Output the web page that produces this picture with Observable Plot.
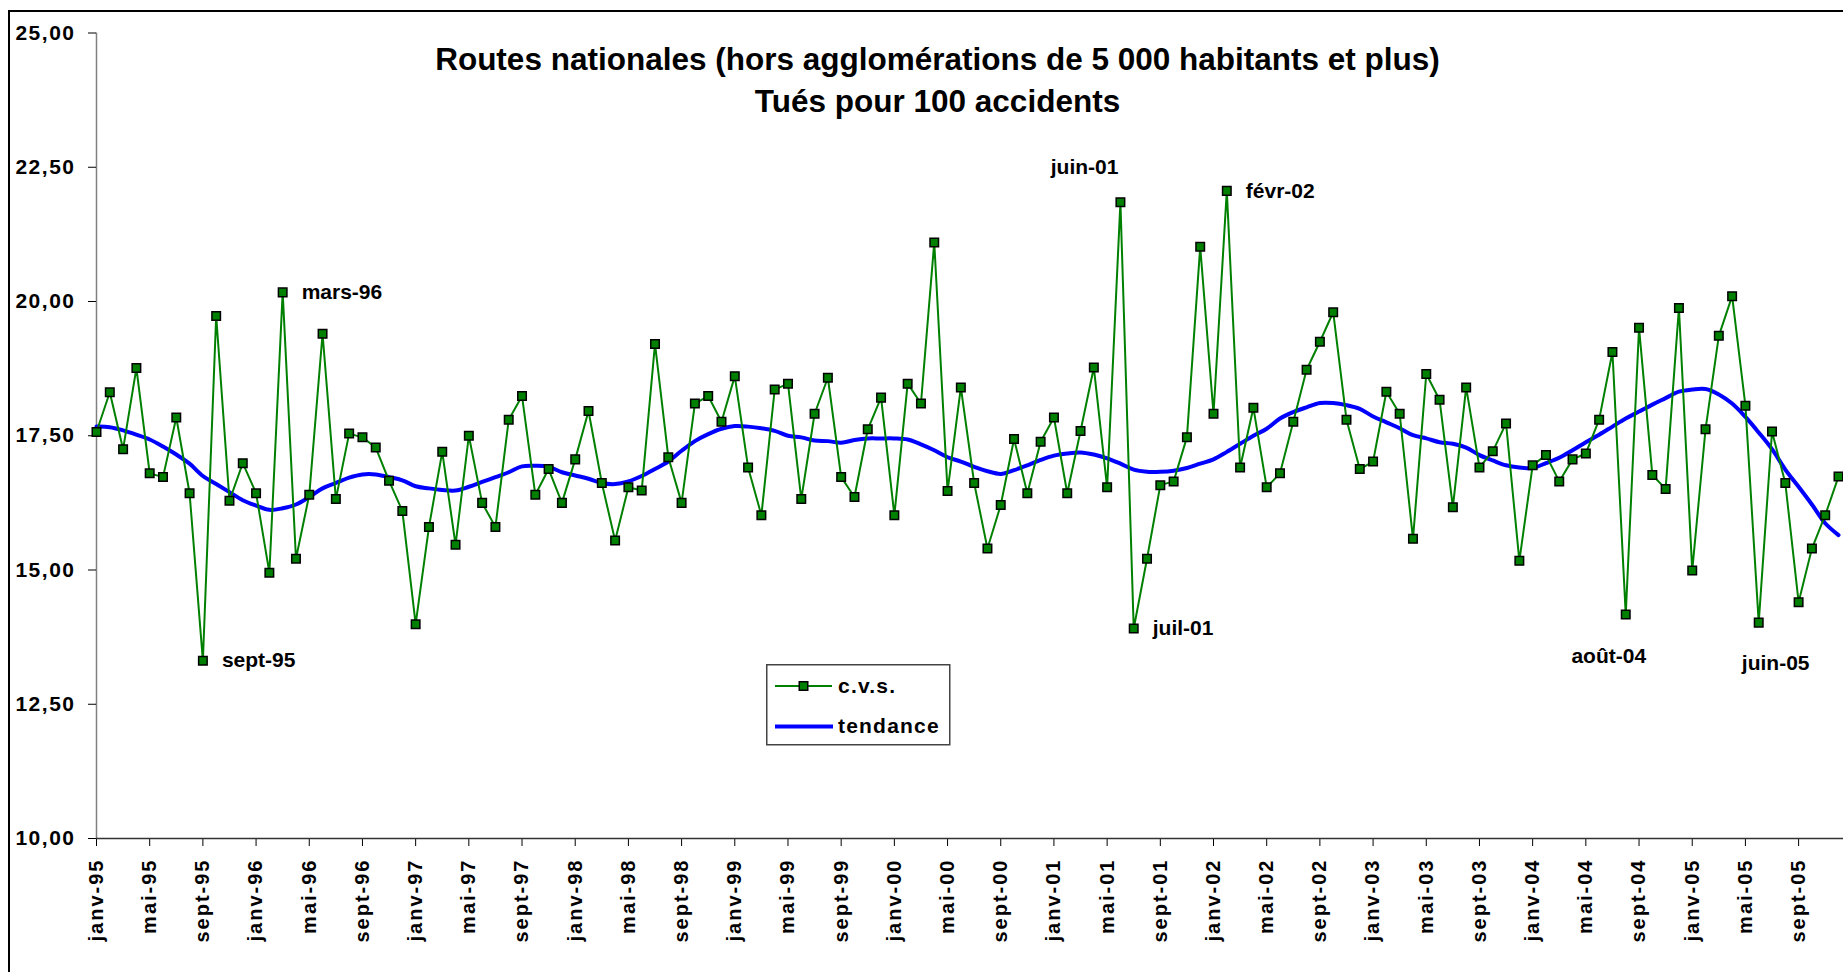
<!DOCTYPE html>
<html>
<head>
<meta charset="utf-8">
<script src="https://cdn.jsdelivr.net/npm/d3@7"></script>
<script src="https://cdn.jsdelivr.net/npm/@observablehq/plot@0.6"></script>
<style>
html, body { margin: 0; padding: 0; background: #fff; overflow: hidden; }
#wrap { position: relative; width: 1843px; height: 972px; font-family: "Liberation Sans", Arial, sans-serif; }
#chart { position: absolute; left: 0; top: 0; }
#border { position: absolute; left: 8px; top: 10px; width: 1900px; height: 1000px; border: 2px solid #000; pointer-events: none; }
#legend { position: absolute; left: 766px; top: 664px; }
</style>
</head>
<body>
<div id="wrap"><div id="border"></div></div>
<script>
// ---- data ----
const monthNames = ["janv", "févr", "mars", "avr", "mai", "juin", "juil", "août", "sept", "oct", "nov", "déc"];
const years = ["95", "96", "97", "98", "99", "00", "01", "02", "03", "04", "05"];
const categories = years.flatMap(y => monthNames.map(m => `${m}-${y}`));

const cvs = [
  17.57, 18.31, 17.25, 18.76, 16.80, 16.73, 17.84, 16.43, 13.31, 19.73, 16.29, 16.99,
  16.43, 14.95, 20.17, 15.21, 16.40, 19.40, 16.32, 17.54, 17.47, 17.28, 16.66, 16.10,
  13.99, 15.80, 17.20, 15.47, 17.50, 16.25, 15.80, 17.80, 18.24, 16.40, 16.88, 16.25,
  17.06, 17.96, 16.62, 15.55, 16.54, 16.48, 19.21, 17.10, 16.25, 18.10, 18.24, 17.76,
  18.61, 16.91, 16.02, 18.36, 18.47, 16.32, 17.91, 18.58, 16.73, 16.36, 17.62, 18.21,
  16.02, 18.47, 18.10, 21.10, 16.47, 18.40, 16.62, 15.40, 16.21, 17.44, 16.43, 17.39,
  17.84, 16.43, 17.59, 18.77, 16.54, 21.85, 13.91, 15.21, 16.58, 16.65, 17.47, 21.02,
  17.91, 22.06, 16.91, 18.02, 16.54, 16.80, 17.76, 18.73, 19.25, 19.80, 17.80, 16.88,
  17.02, 18.32, 17.91, 15.58, 18.65, 18.17, 16.17, 18.40, 16.91, 17.21, 17.73, 15.17,
  16.95, 17.14, 16.65, 17.06, 17.17, 17.80, 19.06, 14.17, 19.51, 16.77, 16.51, 19.88,
  14.99, 17.62, 19.36, 20.10, 18.06, 14.02, 17.58, 16.62, 14.40, 15.40, 16.02, 16.74
];

const tendance = [
  17.67, 17.66, 17.60, 17.52, 17.43, 17.30, 17.15, 16.98, 16.75, 16.60, 16.45, 16.30,
  16.20, 16.12, 16.15, 16.22, 16.36, 16.52, 16.62, 16.72, 16.78, 16.78, 16.73, 16.67,
  16.56, 16.52, 16.49, 16.48, 16.55, 16.64, 16.73, 16.82, 16.93, 16.94, 16.92, 16.82,
  16.76, 16.70, 16.62, 16.60, 16.65, 16.75, 16.88, 17.02, 17.22, 17.40, 17.53, 17.63,
  17.68, 17.67, 17.64, 17.59, 17.50, 17.47, 17.41, 17.40, 17.37, 17.42, 17.45, 17.45,
  17.45, 17.43, 17.34, 17.23, 17.10, 17.02, 16.92, 16.84, 16.79, 16.86, 16.95, 17.05,
  17.13, 17.17, 17.19, 17.15, 17.08, 16.98, 16.87, 16.83, 16.83, 16.85, 16.90, 16.98,
  17.06, 17.20, 17.35, 17.50, 17.63, 17.82, 17.94, 18.03, 18.11, 18.11, 18.07, 18.00,
  17.86, 17.75, 17.64, 17.51, 17.45, 17.38, 17.35, 17.28, 17.14, 17.04, 16.95, 16.91,
  16.90, 16.99, 17.09, 17.23, 17.38, 17.52, 17.67, 17.82, 17.95, 18.08, 18.20, 18.32,
  18.36, 18.37, 18.27, 18.10, 17.85, 17.56, 17.25, 16.87, 16.55, 16.22, 15.87, 15.65
];

const xTickLabels = [
  "janv-95", "mai-95", "sept-95", "janv-96", "mai-96", "sept-96", "janv-97", "mai-97", "sept-97",
  "janv-98", "mai-98", "sept-98", "janv-99", "mai-99", "sept-99", "janv-00", "mai-00", "sept-00",
  "janv-01", "mai-01", "sept-01", "janv-02", "mai-02", "sept-02", "janv-03", "mai-03", "sept-03",
  "janv-04", "mai-04", "sept-04", "janv-05", "mai-05", "sept-05"
];
const yTicks = [10, 12.5, 15, 17.5, 20, 22.5, 25];
const titleLines = ["Routes nationales (hors agglomérations de 5 000 habitants et plus)", "Tués pour 100 accidents"];
const seriesNames = ["c.v.s.", "tendance"];
const labelsRight = ["sept-95", "mars-96", "juil-01", "févr-02"];
const labelsAboveLeft = ["juin-01"];
const labelsBelowLeft = ["août-04"];
const labelsBelowRight = ["juin-05"];

// ---- table ----
const data = categories.map((c, i) => ({i, c, cvs: cvs[i], tendance: tendance[i]}));
const byLabel = labels => labels.map(l => data[categories.indexOf(l)]);
const xTickIdx = xTickLabels.map(l => categories.indexOf(l));

const font = "'Liberation Sans', Arial, sans-serif";
const annOpts = {x: "i", y: "cvs", text: "c", fontSize: 21, fontWeight: "bold", fill: "black", ariaLabel: "annotation", lineAnchor: "middle"};

const chart = Plot.plot({
  width: 1843,
  height: 972,
  marginLeft: 96,
  marginRight: 0,
  marginTop: 32.5,
  marginBottom: 134,
  x: {type: "linear", domain: [0, 131], range: [96, 1838]},
  y: {domain: [10, 25]},
  style: {fontFamily: font, background: "transparent", color: "black", overflow: "visible"},
  marks: [
    Plot.ruleX([0], {stroke: "#808080", strokeWidth: 1.5}),
    Plot.axisY({ticks: yTicks, tickFormat: d => d.toFixed(2).replace(".", ","), tickSize: 8, tickPadding: 13,
      fontSize: 21, fontWeight: "bold", label: null, stroke: "black"}),
    Plot.axisX({ticks: xTickIdx, tickFormat: i => categories[i], tickRotate: -90, tickSize: 8, tickPadding: 12,
      fontSize: 20, fontWeight: "bold", label: null, stroke: "black"}),
    Plot.ruleY([10], {stroke: "#333", strokeWidth: 1.5}),
    Plot.line(data, {x: "i", y: "tendance", stroke: "#0000ff", strokeWidth: 4, curve: "catmull-rom"}),
    Plot.line(data, {x: "i", y: "cvs", stroke: "#008000", strokeWidth: 2}),
    Plot.dot(data, {x: "i", y: "cvs", symbol: "square", r: 4.8, fill: "#008000", stroke: "black", strokeWidth: 1.5}),
    Plot.text(byLabel(labelsRight), {...annOpts, textAnchor: "start", dx: 19}),
    Plot.text(byLabel(labelsAboveLeft), {...annOpts, textAnchor: "end", dx: -2, dy: -35}),
    Plot.text(byLabel(labelsBelowLeft), {...annOpts, textAnchor: "middle", dx: -17, dy: 42}),
    Plot.text(byLabel(labelsBelowRight), {...annOpts, textAnchor: "middle", dx: 17, dy: 41}),
    Plot.text([titleLines[0]], {text: d => d, frameAnchor: "top", lineAnchor: "middle", dx: -32.5, dy: 26.5, fontSize: 31.5, fontWeight: "bold", fill: "black", ariaLabel: "title"}),
    Plot.text([titleLines[1]], {text: d => d, frameAnchor: "top", lineAnchor: "middle", dx: -32.5, dy: 68.5, fontSize: 31.5, fontWeight: "bold", fill: "black", ariaLabel: "title"})
  ]
});
chart.setAttribute("id", "chart");

chart.querySelectorAll('[aria-label="x-axis tick label"] text').forEach(t => t.setAttribute("letter-spacing", "2"));
chart.querySelectorAll('[aria-label="y-axis tick label"] text').forEach(t => t.setAttribute("letter-spacing", "1.5"));
chart.querySelectorAll('[aria-label="annotation"] text').forEach(t => t.setAttribute("letter-spacing", "1"));

const wrap = document.getElementById("wrap");
wrap.insertBefore(chart, wrap.firstChild);

// ---- legend ----
const ns = "http://www.w3.org/2000/svg";
const leg = document.createElementNS(ns, "svg");
leg.setAttribute("id", "legend");
leg.setAttribute("width", 185);
leg.setAttribute("height", 82);
leg.innerHTML = `
  <rect x="0.75" y="0.75" width="183" height="80" fill="white" stroke="#444" stroke-width="1.5"></rect>
  <line x1="9" x2="66" y1="22" y2="22" stroke="#008000" stroke-width="2"></line>
  <rect x="33.25" y="17.75" width="8.5" height="8.5" fill="#008000" stroke="black" stroke-width="1.5"></rect>
  <line x1="9" x2="67" y1="62.5" y2="62.5" stroke="#0000ff" stroke-width="4"></line>
  <text x="72" y="22" dy="0.35em" font-family="${font}" font-weight="bold" font-size="21" letter-spacing="1.2">${seriesNames[0]}</text>
  <text x="72" y="62" dy="0.35em" font-family="${font}" font-weight="bold" font-size="21" letter-spacing="1.2">${seriesNames[1]}</text>`;
wrap.appendChild(leg);
</script>
</body>
</html>
